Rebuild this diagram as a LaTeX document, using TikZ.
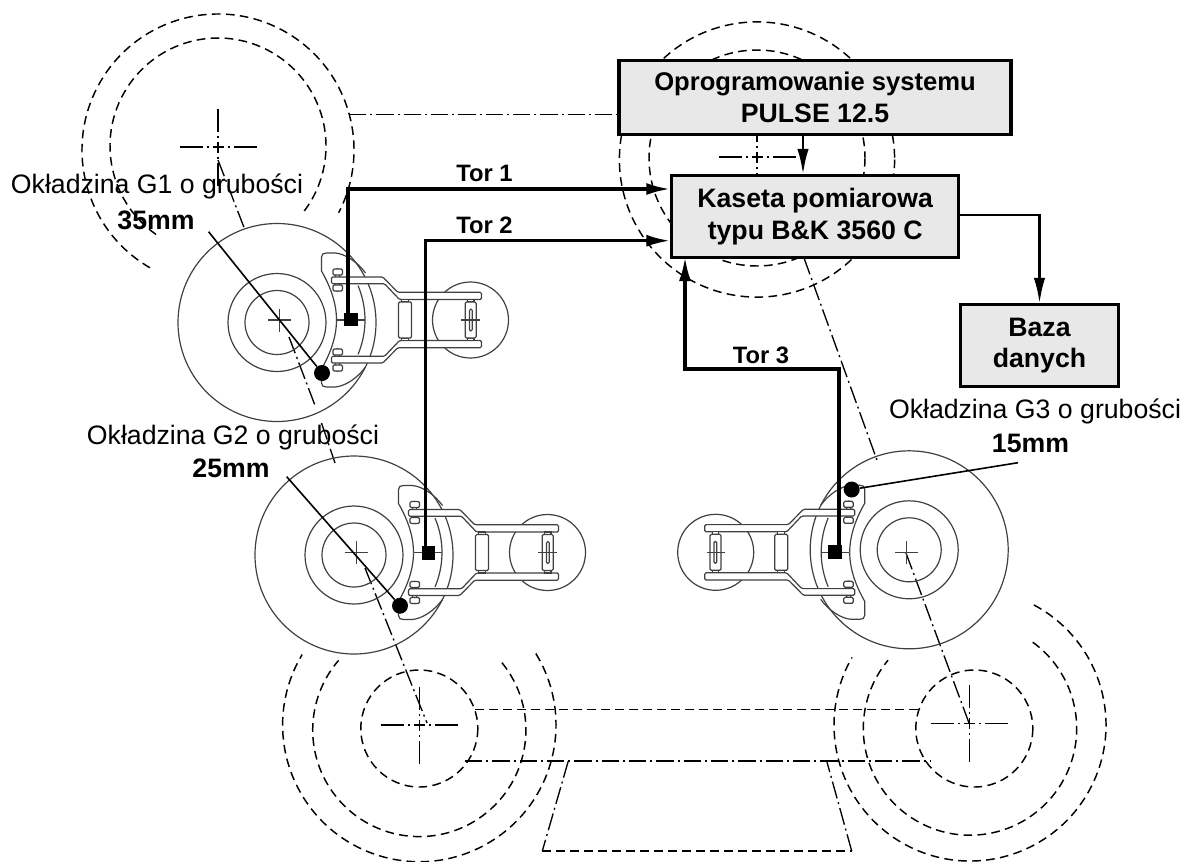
\documentclass[tikz,border=0pt]{standalone}
\usepackage{fontspec}
\setmainfont{Liberation Sans}
\usetikzlibrary{arrows.meta,positioning}

\begin{document}
\begin{tikzpicture}[x=0.75pt,y=-0.75pt,>=Latex,
  box/.style={draw,line width=2.4pt,fill=black!9,align=center,inner sep=0pt,
    font=\bfseries\fontsize{20}{23.5}\selectfont},
  label/.style={inner sep=0pt,align=center,font=\fontsize{20}{24}\selectfont},
  thick label/.style={inner sep=0pt,font=\bfseries\fontsize{20}{24}\selectfont},
  track label/.style={inner sep=0pt,font=\bfseries\fontsize{17.8}{22}\selectfont},
  sensor/.style={fill=black,inner sep=0pt,minimum size=10pt},
  spot/.style={circle,fill=black,inner sep=0pt,minimum size=12pt},
  track/.style={line width=2.4pt,-{Latex[length=18pt,width=9pt]}},
  arrow/.style={line width=1.8pt,-{Latex[length=19pt,width=8.5pt]}},
  leader/.style={line width=1.2pt},
  part/.style={line width=0.9pt,black!75},
  hidden/.style={line width=1.1pt,dash pattern=on 6.5pt off 4pt},
  chain/.style={line width=1pt,dash pattern=on 13pt off 3pt on 1.5pt off 3pt},
  axis/.style={line width=1.1pt,dash pattern=on 17.25pt off 3pt on 1.5pt off 3pt
    on 8.25pt off 3pt on 1.5pt off 3pt on 17.25pt},
  axes/.pic={
    \draw[axis] (-38.5,0)--(38.5,0);
    \draw[axis] (0,-38.5)--(0,38.5);
  },
  brake/.pic={
    \draw[part] (-2.5,2.5) circle[radius=99];
    \draw[part] (-2.5,2.5) circle[radius=49];
    \draw[part] (-2.5,2.5) circle[radius=32];
    \draw[part] (-11.5,0)--(11.5,0) (0,-11.5)--(0,11.5);
    \draw[part] (191,0) circle[radius=38];
    \draw[part] (57.7,0)--(85.7,0);
    \draw[part] ([shift={(-23:88)}]-2.5,0) arc[start angle=-23,end angle=23,radius=88];
    \foreach \s in {1,-1} {
      \begin{scope}[yscale=\s]
        \draw[part] (57,0) .. controls (57,-18) and (50,-35) .. (42,-49)
          -- (42,-63) .. controls (42,-66) and (44,-67) .. (47,-67)
          -- (56,-67) .. controls (66,-66) and (78,-58) .. (86,-47);
        \draw[part,fill=white,rounded corners=1pt] (56,-51) rectangle (60,-29);
        \draw[part,fill=white,rounded corners=1pt] (53.5,-51) rectangle (63,-45);
        \draw[part,fill=white,rounded corners=1pt] (53.5,-35) rectangle (63,-29);
        \draw[part,fill=white,rounded corners=1pt] (52,-43)--(103.3,-43)--(118.3,-27.7)
          --(202,-27.7)--(202,-20.5)--(120,-20.5)--(105,-36.3)--(52,-36.3)--cycle;
        \draw[part,fill=white] (122,-20.5) rectangle (129,-18);
        \draw[part,fill=white] (188,-20.5) rectangle (194.5,-18);
      \end{scope}
    }
    \draw[part,fill=white,rounded corners=1pt] (119,-18) rectangle (132,18);
    \draw[part,fill=white,rounded corners=1pt] (185.7,-18) rectangle (196.7,18);
    \draw[part,rounded corners=1pt] (190,-11) rectangle (192.7,11);
    \draw[part] (181.7,0)--(200,0);
  }]
  \useasboundingbox (0,0) rectangle (1184,861);

  % pulleys and belts behind the brakes
  \draw[hidden] (218,150) ++(120:136) arc[start angle=120,end angle=387.5,radius=136];
  \draw[hidden] (218,146) ++(125:108) arc[start angle=125,end angle=398,radius=108];
  \draw[hidden] (757,159.5) circle[radius=137.6];
  \draw[hidden] (757,158) circle[radius=108];
  \draw[hidden] (419.3,725) ++(-31.5:136.7) arc[start angle=-31.5,end angle=211,radius=136.7];
  \draw[hidden] (419.3,730) ++(-39.2:106.6) arc[start angle=-39.2,end angle=220.8,radius=106.6];
  \draw[hidden] (419.3,728.5) circle[radius=58.5];
  \draw[hidden] (970,725) ++(-62:136) arc[start angle=-62,end angle=209.8,radius=136];
  \draw[hidden] (970,728.5) ++(-54:106.7) arc[start angle=-54,end angle=219.8,radius=106.7];
  \draw[hidden] (974.3,728.5) circle[radius=58.5];
  \pic at (218,147) {axes};
  \pic at (757,157) {axes};
  \pic at (419.3,725) {axes};
  \pic at (969.3,723.3) {axes};

  \draw[hidden] (475,709.3)--(919.3,709.3);
  \draw[chain] (465,761)--(930,761);
  \draw[chain] (568.3,761)--(542.3,851);
  \draw[hidden] (542.3,851)--(851.7,851);
  \draw[chain] (851.7,851)--(826.7,761);
  \draw[chain] (349,114.5)--(619,114.5);
  \draw[chain] (218,160)--(245,230);
  \draw[chain] (289,337)--(316,408);
  \draw[chain] (321.5,423)--(335,463);
  \draw[chain] (365,568)--(427,723);
  \draw[chain] (804,258)--(878,463);
  \draw[chain] (906,553)--(969,723);

  % the three brakes
  \pic at (279.5,320) {brake};
  \pic at (356.5,552.5) {brake};
  \pic[rotate=180] at (906.7,552.3) {brake};

  \node[box,minimum width=294pt,minimum height=56pt] (pulse) at (815,97.5)
    {\fontsize{19.2}{22}\selectfont Oprogramowanie systemu\\PULSE 12.5};
  \node[box,minimum width=215pt,minimum height=61pt] (kaseta) at (815.2,216.5)
    {Kaseta pomiarowa\\typu B\&K 3560 C};
  \node[box,minimum width=119pt,minimum height=61pt] (baza) at (1039.5,345.5)
    {Baza\\danych};

  \node[sensor] (sensor1) at (351,319.5) {};
  \node[sensor] (sensor2) at (428.5,553) {};
  \node[sensor] (sensor3) at (835,552) {};
  \node[spot] (spot1) at (322,373) {};
  \node[spot] (spot2) at (400,605.7) {};
  \node[spot] (spot3) at (851.7,489.5) {};

  \coordinate (in1) at (kaseta.west |- 0,189);
  \coordinate (in2) at (kaseta.west |- 0,240.7);
  \coordinate (in3) at (685,257);
  \coordinate (in4) at (803,135);
  \coordinate (out1) at (958.5,215);
  \coordinate (foot1) at (348,319.5);
  \coordinate (foot2) at (425.6,553);
  \coordinate (foot3) at (839,552);
  \coordinate (bend3) at (839,369);
  \coordinate (leader1) at (208.6,231.7);
  \coordinate (leader2) at (286.7,476.7);
  \coordinate (leader3) at (1018,462.7);

  \draw[track] (foot1) |- (in1);
  \draw[track] (foot2) |- (in2);
  \draw[track] (foot3) -- (bend3) -| (in3);
  \draw[arrow] (in4) -- (in4 |- kaseta.north);
  \draw[arrow] (out1) -| (baza.north);

  \draw[leader] (leader1)--(spot1);
  \draw[leader] (leader2)--(spot2);
  \draw[leader] (leader3)--(spot3);

  \node[label] (g1) at (157,186) {Okładzina G1 o grubości};
  \node[thick label] (g1mm) at (156,220) {35mm};
  \node[label] (g2) at (233,437) {Okładzina G2 o grubości};
  \node[thick label] (g2mm) at (231,468) {25mm};
  \node[label] (g3) at (1035,411) {Okładzina G3 o grubości};
  \node[thick label] (g3mm) at (1030.5,443) {15mm};
  \node[track label] (tor1) at (484.5,173) {Tor 1};
  \node[track label] (tor2) at (484.5,225) {Tor 2};
  \node[track label] (tor3) at (761,355) {Tor 3};
\end{tikzpicture}
\end{document}
